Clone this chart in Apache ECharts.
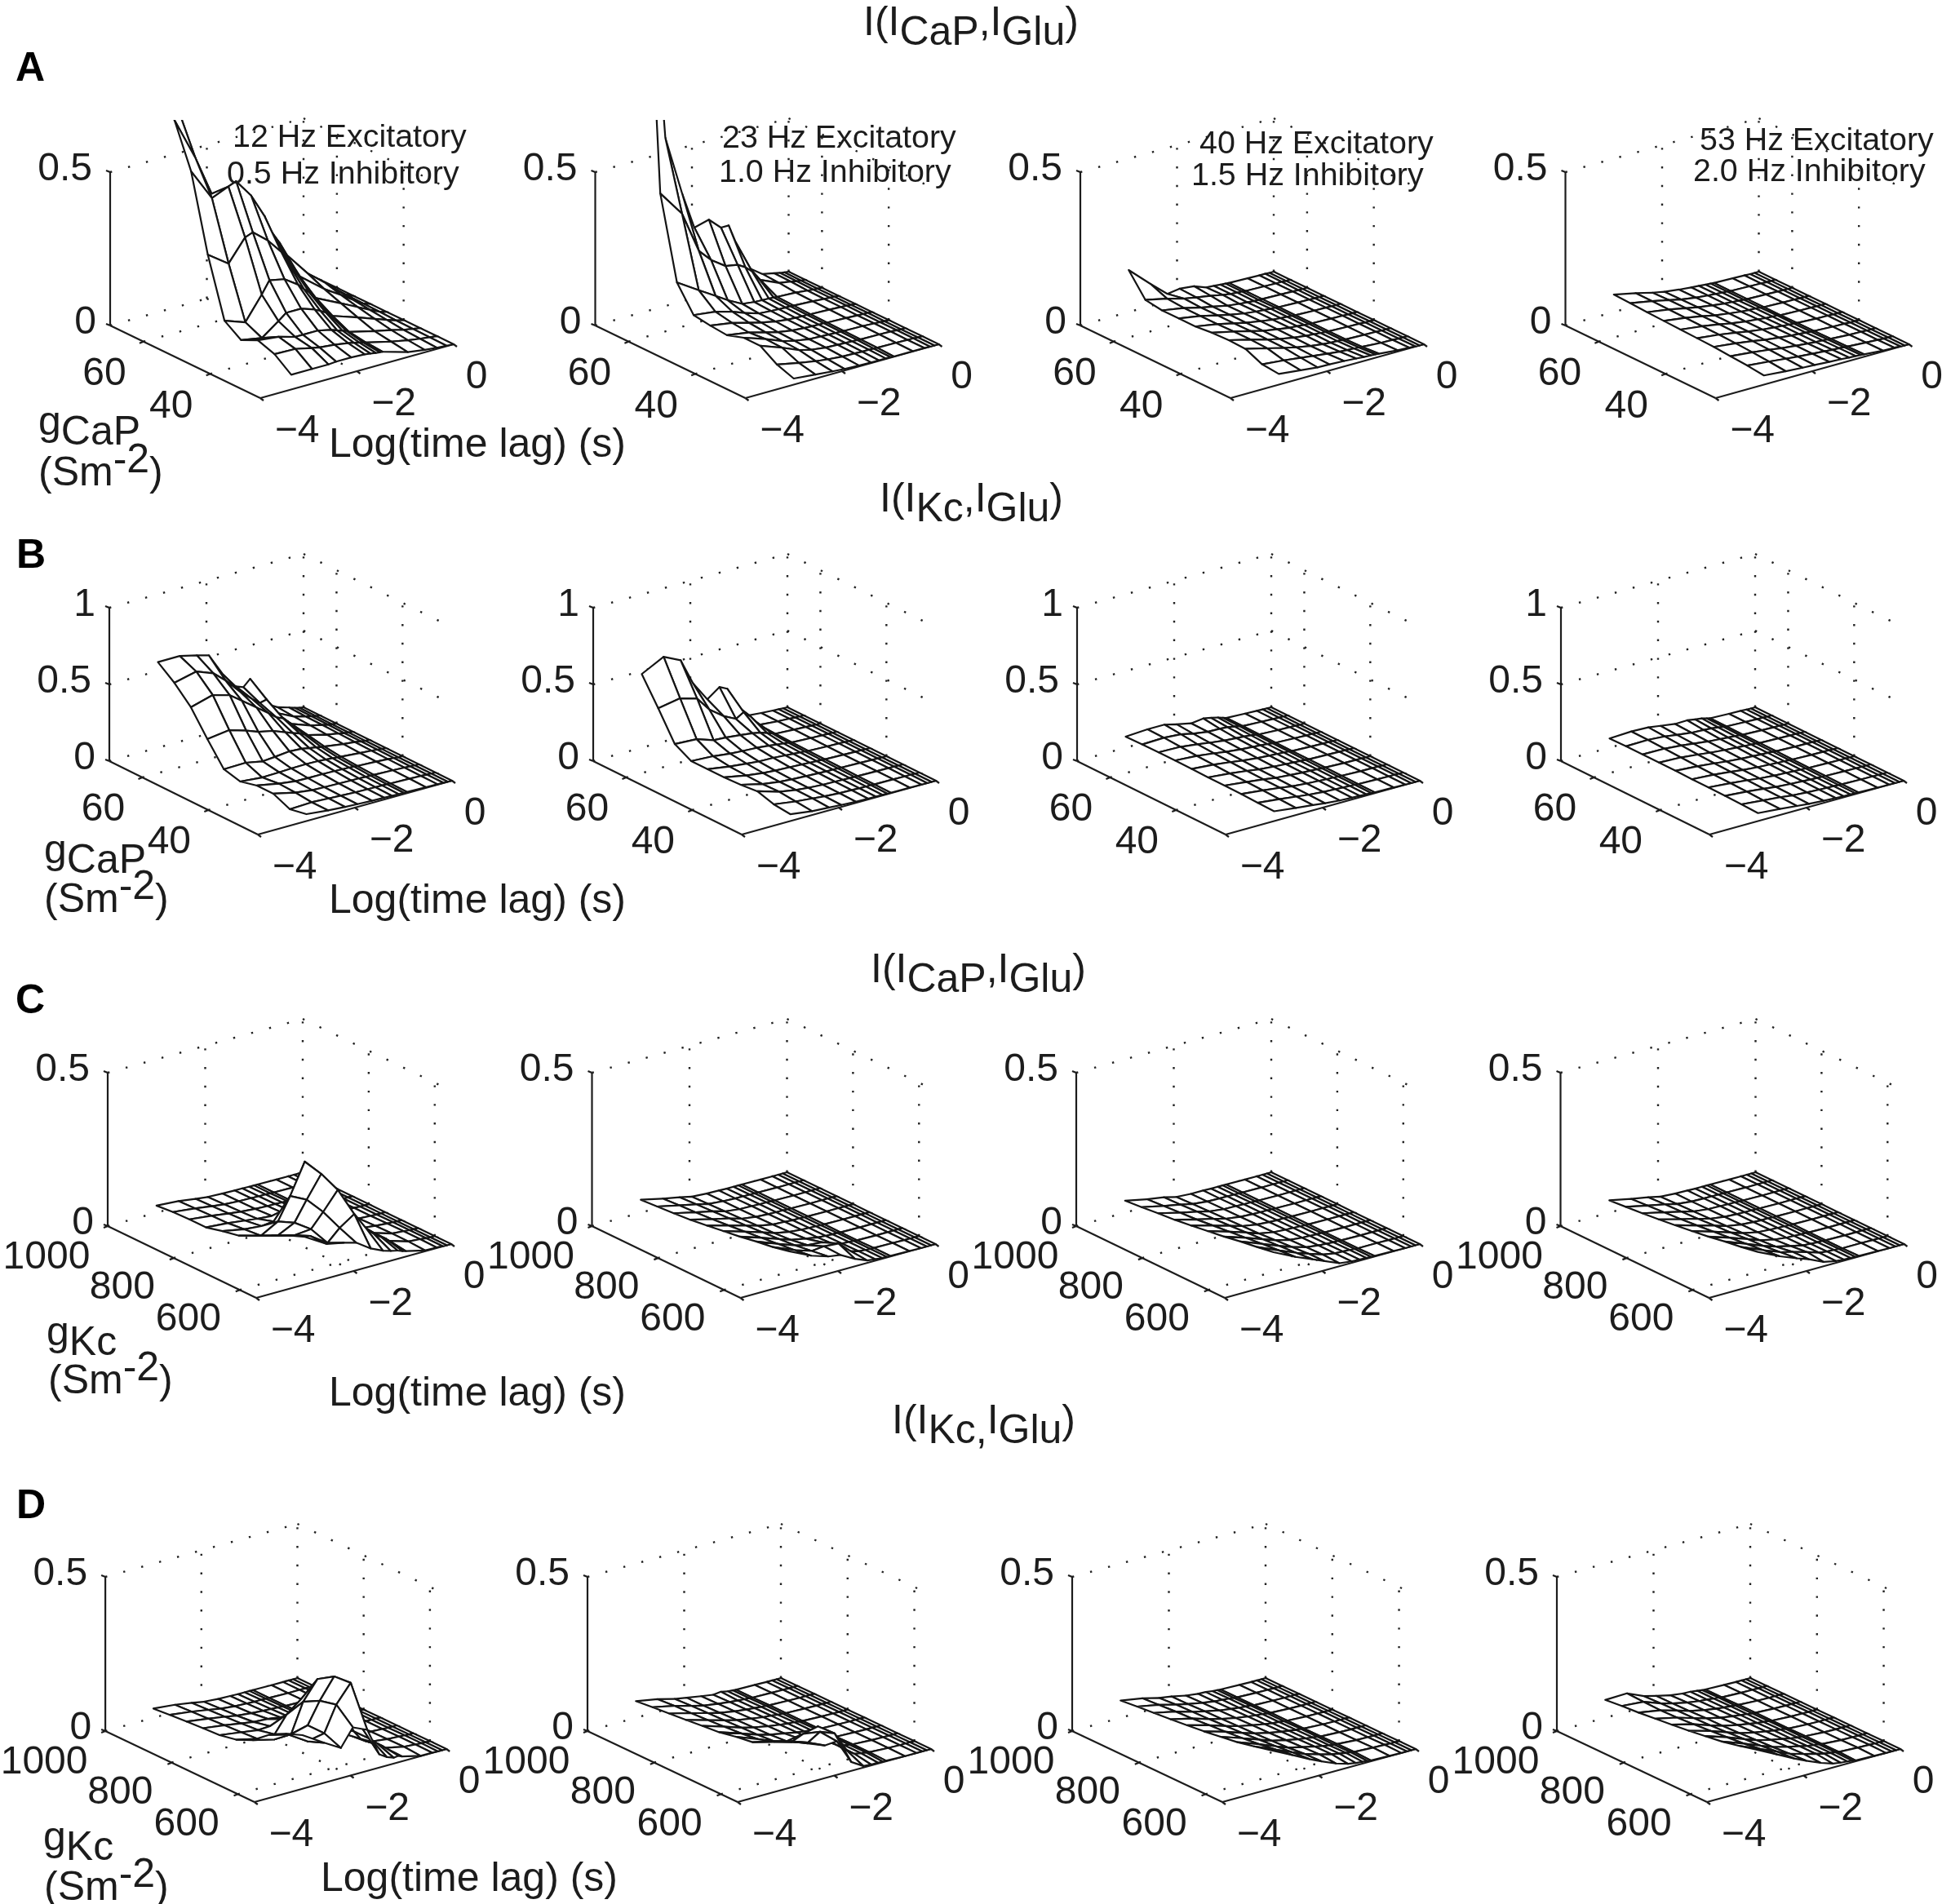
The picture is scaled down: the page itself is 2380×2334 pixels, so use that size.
<!DOCTYPE html>
<html><head><meta charset="utf-8"><style>html,body{margin:0;padding:0;background:#fff}#c{width:2380px;height:2334px}</style>
<script src="https://cdn.jsdelivr.net/npm/echarts@6/dist/echarts.min.js"></script></head>
<body><div id="c"></div>
<script>
// ---- axis values ----
const lagAxisRange=[-4,0];
const lagTicks=[-4,-2,0];
const lags=[-3,-2.55,-2.2,-1.95,-1.65,-1.4,-1.24,-1.1,-1,-0.93,-0.54,-0.3,-0.18,-0.09,0];
const lagsA1=[-3.36,-2.93,-2.59,-2.43,-2.12,-1.84,-1.72,-1.61,-1.53,-1.47,-0.95,-0.6,-0.35,-0.15,0];
const gCaP=[70,65,60,55,50,45,40,35,30,25];
const gKc=[1000,950,900,850,800,750,700,650,600,550];
const gCaPTicks=[60,40];
const gKcTicks=[1000,800,600];
const zTicksHalf=["0","0.5"];
const zTicksOne=["0","0.5","1"];
const freqLabels=[["12 Hz Excitatory","0.5 Hz Inhibitory"],["23 Hz Excitatory","1.0 Hz Inhibitory"],["40 Hz Excitatory","1.5 Hz Inhibitory"],["53 Hz Excitatory","2.0 Hz Inhibitory"]];

// ---- surfaces: information (in thousandths), rows = g high to low, columns = lags ----
const zA1=[
[1500,1200,590,520,340,230,200,180,165,150,90,55,28,8,0],
[1100,680,470,380,290,220,195,175,160,145,90,55,28,8,0],
[694,553,420,370,330,270,235,210,190,170,100,60,30,9,0],
[553,447,470,480,420,340,290,260,240,210,115,70,35,10,0],
[308,260,330,340,300,250,215,190,175,155,90,55,28,8,0],
[119,95,170,210,200,170,150,135,120,110,70,42,22,7,0],
[82,70,110,130,130,115,105,95,85,78,50,30,16,5,0],
[108,100,85,85,85,75,68,62,58,52,32,20,10,4,0],
[89,87,75,70,65,58,54,50,47,44,24,13,7,3,0],
[48,48,48,50,50,48,45,42,41,40,16,8,4,2,0]];
const zA2=[
[1500,548,350,229,242,205,205,146,90,60,16,8,4,2,0],
[413,327,190,150,117,110,95,75,55,40,13,7,3,1,0],
[149,104,70,45,20,15,14,13,12,11,8,4,2,1,0],
[69,60,45,30,15,12,11,10,10,9,6,3,2,1,0],
[61,50,35,25,15,10,9,8,8,7,5,3,2,1,0],
[56,45,30,20,12,9,8,7,7,6,4,2,1,1,0],
[74,50,28,18,10,8,7,6,6,5,4,2,1,0,0],
[74,48,25,15,9,7,6,5,5,4,3,2,1,0,0],
[39,25,15,10,6,5,4,4,3,3,2,1,1,0,0],
[20,13,8,5,3,2,2,2,2,1,1,1,0,0,0]];
const zA3=[
[137,72,24,30,25,10,8,6,5,4,2,1,1,0,0],
[66,50,35,28,20,12,8,6,5,4,2,1,1,0,0],
[58,46,32,24,14,9,7,5,4,4,2,1,0,0,0],
[58,46,33,24,15,10,8,6,5,4,2,1,0,0,0],
[58,46,33,24,16,10,8,6,5,4,2,1,0,0,0],
[64,48,34,24,16,10,8,6,5,4,2,1,0,0,0],
[66,48,33,24,15,10,8,6,5,4,2,1,0,0,0],
[64,46,32,23,14,9,7,6,5,4,2,1,0,0,0],
[40,33,26,21,15,11,9,8,7,6,2,1,0,0,0],
[35,27,21,20,18,15,13,12,11,10,4,2,1,0,0]];
const zA4=[
[57,42,28,20,14,10,8,6,5,4,2,1,0,0,0],
[55,42,30,21,14,10,8,6,5,4,2,1,0,0,0],
[52,41,30,22,15,10,8,6,5,4,2,1,0,0,0],
[50,40,30,22,15,10,8,7,5,4,2,1,0,0,0],
[48,39,30,22,15,11,8,7,6,4,2,1,0,0,0],
[46,38,29,22,15,11,9,7,6,5,2,1,0,0,0],
[44,36,28,21,15,11,9,7,6,5,2,1,0,0,0],
[40,33,26,20,15,11,9,8,7,6,2,1,0,0,0],
[36,29,23,19,15,12,10,9,8,7,3,1,0,0,0],
[30,24,20,18,15,13,11,10,9,8,3,2,1,0,0]];
const zB1=[
[558,558,532,510,356,260,240,282,180,120,48,25,12,5,0],
[476,510,468,400,300,230,190,200,130,100,40,20,10,4,0],
[370,410,378,320,250,190,150,130,100,80,35,18,9,3,0],
[215,234,200,170,150,120,100,85,70,60,28,15,7,3,0],
[72,75,53,60,70,65,55,48,42,38,20,12,6,2,0],
[45,32,35,38,40,38,34,30,27,25,15,9,5,2,0],
[72,45,30,28,28,26,24,22,20,18,12,7,4,1,0],
[72,40,25,22,20,18,17,15,14,13,9,5,3,1,0],
[24,30,24,20,16,14,13,12,11,10,7,4,2,1,0],
[45,30,22,18,14,12,10,9,9,8,5,3,2,1,0]];
const zB2=[
[480,553,500,330,197,255,230,120,60,21,10,5,3,1,0],
[310,335,303,210,140,100,130,90,50,20,9,5,2,1,0],
[130,122,85,80,70,60,50,35,25,15,8,4,2,1,0],
[72,64,50,45,40,32,25,20,16,12,6,3,2,1,0],
[72,50,38,30,28,22,18,15,12,10,5,3,1,0,0],
[72,45,30,24,20,16,13,11,10,8,4,2,1,0,0],
[77,42,26,20,15,12,10,9,8,7,4,2,1,0,0],
[88,45,26,18,12,10,8,7,6,5,3,2,1,0,0],
[56,35,24,16,10,8,6,5,5,4,3,1,1,0,0],
[45,25,18,13,8,6,5,4,3,3,2,1,0,0,0]];
const zB3=[
[72,80,80,60,40,50,40,30,20,12,6,3,2,1,0],
[74,78,70,52,38,36,32,24,18,12,6,3,1,1,0],
[76,72,58,46,34,28,24,20,15,11,5,3,1,0,0],
[76,66,52,40,30,24,20,16,13,10,5,2,1,0,0],
[74,62,48,36,26,20,17,14,12,9,4,2,1,0,0],
[72,58,44,32,24,18,15,12,10,8,4,2,1,0,0],
[72,56,42,30,22,16,14,11,9,8,3,2,1,0,0],
[70,54,40,28,20,15,12,10,8,7,3,2,1,0,0],
[66,50,36,26,18,14,11,9,8,6,3,1,1,0,0],
[64,46,34,24,16,12,10,8,7,6,3,1,0,0,0]];
const zB4=[
[60,66,62,50,36,38,30,24,16,10,5,3,1,0,0],
[62,64,56,44,32,28,24,18,14,10,5,2,1,0,0],
[62,60,50,40,28,22,18,15,12,9,4,2,1,0,0],
[62,56,44,34,25,20,16,13,11,8,4,2,1,0,0],
[62,52,40,30,22,17,14,12,10,8,3,2,1,0,0],
[60,50,38,28,20,15,12,10,9,7,3,2,1,0,0],
[60,48,36,26,18,14,11,9,8,6,3,1,1,0,0],
[58,46,34,24,17,13,10,8,7,6,3,1,0,0,0],
[56,42,32,22,15,11,9,8,6,5,2,1,0,0,0],
[52,40,28,20,14,10,8,7,6,5,2,1,0,0,0]];
const zC1=[
[23,18,10,5,3,2,2,1,1,1,0,0,0,0,0],
[28,20,12,7,4,3,2,2,1,1,0,0,0,0,0],
[30,22,14,9,5,3,3,2,2,1,1,0,0,0,0],
[30,24,17,12,8,5,4,3,2,2,1,0,0,0,0],
[44,30,25,29,60,20,10,6,5,4,1,1,0,0,0],
[55,35,66,138,237,30,25,15,10,8,3,1,0,0,0],
[81,61,88,152,223,100,60,35,20,12,5,2,1,0,0],
[108,88,93,138,197,106,70,50,35,25,6,3,1,0,0],
[134,112,74,112,144,85,60,45,35,25,6,3,1,0,0],
[155,112,101,90,58,40,32,27,21,18,3,2,1,0,0]];
const zC2=[
[42,26,15,6,3,2,1,1,1,1,0,0,0,0,0],
[46,30,18,8,4,2,2,1,1,1,0,0,0,0,0],
[50,33,21,10,4,3,2,2,1,1,0,0,0,0,0],
[55,37,24,12,5,3,2,2,1,1,0,0,0,0,0],
[62,42,27,15,6,4,2,2,1,1,0,0,0,0,0],
[70,48,31,17,8,4,3,2,1,1,0,0,0,0,0],
[78,54,35,21,12,5,3,2,2,1,0,0,0,0,0],
[88,60,40,30,26,8,4,3,2,1,0,0,0,0,0],
[96,66,48,52,48,12,5,3,2,2,1,0,0,0,0],
[108,74,56,50,24,8,5,3,2,2,1,0,0,0,0]];
const zC3=[
[39,24,15,5,2,2,1,1,1,1,0,0,0,0,0],
[44,28,17,8,3,2,2,1,1,1,0,0,0,0,0],
[50,32,20,10,4,3,2,2,1,1,0,0,0,0,0],
[55,36,23,12,5,3,2,2,1,1,0,0,0,0,0],
[62,42,26,14,6,3,2,2,1,1,0,0,0,0,0],
[70,48,30,16,7,4,3,2,1,1,0,0,0,0,0],
[78,54,34,20,8,4,3,2,2,1,0,0,0,0,0],
[88,60,38,24,10,5,3,2,2,1,0,0,0,0,0],
[96,65,42,28,12,5,4,3,2,1,1,0,0,0,0],
[105,70,47,30,10,5,4,3,2,2,1,0,0,0,0]];
const zC4=[
[40,25,15,6,3,2,1,1,1,1,0,0,0,0,0],
[45,29,18,8,3,2,2,1,1,1,0,0,0,0,0],
[50,33,20,10,4,3,2,2,1,1,0,0,0,0,0],
[56,37,23,12,5,3,2,2,1,1,0,0,0,0,0],
[63,42,27,14,6,3,2,2,1,1,0,0,0,0,0],
[70,48,30,17,7,4,3,2,1,1,0,0,0,0,0],
[78,54,35,20,9,4,3,2,2,1,0,0,0,0,0],
[88,60,38,25,14,5,3,2,2,1,0,0,0,0,0],
[96,66,44,34,20,7,4,3,2,1,1,0,0,0,0],
[106,72,50,36,14,6,4,3,2,2,1,0,0,0,0]];
const zD1=[
[30,23,14,7,3,2,1,1,1,1,0,0,0,0,0],
[35,26,17,10,5,3,2,2,1,1,0,0,0,0,0],
[39,29,20,13,8,5,4,3,2,1,0,0,0,0,0],
[43,33,24,18,15,10,6,4,3,2,1,0,0,0,0],
[46,36,28,30,40,25,12,7,5,3,1,1,0,0,0],
[57,40,40,93,130,60,22,12,8,5,2,1,0,0,0],
[81,64,66,160,221,90,40,20,12,8,3,1,0,0,0],
[124,106,120,189,255,110,60,30,18,12,4,2,1,0,0],
[153,109,120,202,260,100,60,40,28,18,5,2,1,0,0],
[174,130,98,154,133,43,27,19,21,16,1,1,0,0,0]];
const zD2=[
[54,41,27,20,12,6,9,4,3,2,1,0,0,0,0],
[60,45,30,20,13,8,6,4,3,2,1,0,0,0,0],
[65,47,32,22,14,9,7,5,4,3,1,0,0,0,0],
[70,50,34,24,16,10,8,5,4,3,1,0,0,0,0],
[76,54,36,26,17,11,8,6,4,3,1,0,0,0,0],
[81,58,38,28,19,12,8,6,5,3,1,0,0,0,0],
[92,65,42,32,26,13,9,7,5,3,1,0,0,0,0],
[100,82,66,82,93,35,14,8,6,4,1,0,0,0,0],
[129,109,90,114,96,30,12,8,6,4,1,0,0,0,0],
[155,128,106,109,29,5,3,3,2,2,0,0,0,0,0]];
const zD3=[
[56,44,30,24,14,9,8,5,4,3,1,0,0,0,0],
[62,48,34,25,16,10,8,6,4,3,1,0,0,0,0],
[67,52,36,27,17,11,8,6,5,3,1,0,0,0,0],
[72,55,38,28,18,12,9,7,5,4,1,0,0,0,0],
[78,59,41,30,20,13,9,7,5,4,1,0,0,0,0],
[84,63,44,32,21,14,10,7,6,4,1,0,0,0,0],
[92,68,48,34,23,15,11,8,6,4,1,0,0,0,0],
[100,74,52,37,26,17,12,8,6,5,1,0,0,0,0],
[112,82,58,42,28,18,13,9,7,5,2,1,0,0,0],
[125,90,62,44,24,12,8,6,4,3,1,0,0,0,0]];
const zD4=[
[58,60,36,26,15,10,9,6,4,3,1,0,0,0,0],
[64,58,38,27,17,11,9,6,5,3,1,0,0,0,0],
[68,56,40,28,18,12,9,7,5,4,1,0,0,0,0],
[74,58,41,30,19,13,10,7,5,4,1,0,0,0,0],
[80,62,43,31,21,14,10,7,6,4,1,0,0,0,0],
[86,66,46,33,22,15,11,8,6,4,1,0,0,0,0],
[94,71,50,36,24,16,11,8,6,5,1,0,0,0,0],
[102,76,54,39,27,18,12,9,7,5,1,0,0,0,0],
[114,84,60,43,29,19,13,9,7,5,2,1,0,0,0],
[128,92,64,46,26,13,9,7,5,3,1,0,0,0,0]];

// ---- page layout (pixels) ----
const INK='#1c1c1c';
const rows=[
 {key:'A',x0:135,step:594.5,y0:399,u:[237,-66],v:[184,89],h:188,zs:[zA1,zA2,zA3,zA4],g:gCaP,gt:gCaPTicks,zmax:0.5,zl:zTicksHalf,clip:true},
 {key:'B',x0:134,step:593,y0:933,u:[238,-66],v:[182,90],h:188,zs:[zB1,zB2,zB3,zB4],g:gCaP,gt:gCaPTicks,zmax:1,zl:zTicksOne},
 {key:'C',x0:132,step:593.5,y0:1503,u:[239,-66],v:[182,88],h:188,zs:[zC1,zC2,zC3,zC4],g:gKc,gt:gKcTicks,zmax:0.5,zl:zTicksHalf},
 {key:'D',x0:126,step:594,y0:2122,u:[237,-65],v:[184,87],h:189,zs:[zD1,zD2,zD3,zD4],g:gKc,gt:gKcTicks,zmax:0.5,zl:zTicksHalf}
];
const GW=580,GL=130,GT=252,GH=370;

const grids=[],xAxes=[],yAxes=[],series=[];
function projector(r){
  const gHi=r.g[0],gLo=r.g[r.g.length-1];
  return (lag,g,z)=>{
    const l=(lag-lagAxisRange[0])/(lagAxisRange[1]-lagAxisRange[0]);
    const f=(gHi-g)/(gHi-gLo);
    const w=z/r.zmax;
    return [GL+r.u[0]*l+r.v[0]*f, GT+r.u[1]*l+r.v[1]*f-r.h*w];
  };
}
function txt(pos,s,align){
  return {type:'text',x:pos[0],y:pos[1],silent:true,style:{text:s,fontFamily:'Liberation Sans',fontSize:48,fill:INK,align:align||'center',verticalAlign:'middle'}};
}
rows.forEach((r)=>{
  r.zs.forEach((Z,ci)=>{
    const idx=grids.length, ox=r.x0+r.step*ci;
    grids.push({left:ox-GL,top:r.y0-GT,width:GW,height:GH,show:false});
    xAxes.push({type:'value',gridIndex:idx,min:0,max:GW,show:false});
    yAxes.push({type:'value',gridIndex:idx,min:0,max:GH,inverse:true,show:false});
    const P=projector(r);
    const L=(r.key==='A'&&ci===0)?lagsA1:lags;
    const gHi=r.g[0],gLo=r.g[r.g.length-1],top=r.zmax;
    const zLv=r.zl.map(Number);
    series.push({type:'custom',xAxisIndex:idx,yAxisIndex:idx,silent:true,animation:false,clip:false,z:1,data:[[0]],
      renderItem(params,api){
        const c=a=>api.coord(a);
        const ch=[];
        const dot=(a,b)=>{const p=c(a),q=c(b);ch.push({type:'line',shape:{x1:p[0],y1:p[1],x2:q[0],y2:q[1]},silent:true,style:{stroke:'#222',lineWidth:2.4,lineDash:[2.4,20.4],fill:null}});};
        const sol=(a,b,w)=>{const p=c(a),q=c(b);ch.push({type:'line',shape:{x1:p[0],y1:p[1],x2:q[0],y2:q[1]},silent:true,style:{stroke:INK,lineWidth:w||2.2,fill:null}});};
        zLv.forEach(z=>{
          dot(P(-4,gHi,z),P(0,gHi,z));
          dot(P(0,gHi,z),P(0,gLo,z));
        });
        dot(P(-2,gHi,0),P(-2,gHi,top));
        dot(P(0,gHi,0),P(0,gHi,top));
        r.gt.forEach(t=>{
          if(t!==gHi) dot(P(0,t,0),P(0,t,top));
          if(t!==gHi) dot(P(-4,t,0),P(0,t,0));
        });
        dot(P(-2,gHi,0),P(-2,gLo,0));
        sol(P(-4,gHi,0),P(-4,gHi,top));
        sol(P(-4,gHi,0),P(-4,gLo,0));
        sol(P(-4,gLo,0),P(0,gLo,0));
        const tick=(p,dx,dy)=>{const a=c(p);ch.push({type:'line',shape:{x1:a[0],y1:a[1],x2:a[0]+dx,y2:a[1]+dy},silent:true,style:{stroke:INK,lineWidth:2.2}});};
        zLv.forEach(z=>tick(P(-4,gHi,z),-5,-2));
        lagTicks.forEach(t=>tick(P(t,gLo,0),4,3));
        r.gt.forEach(t=>tick(P(-4,t,0),-5,2));
        const isK=r.key==='C'||r.key==='D';
        r.zl.forEach((s,i)=>{const a=c(P(-4,gHi,zLv[i]));ch.push(txt([a[0]-(s==='0.5'?22:17),a[1]-3],s,'right'));});
        r.gt.forEach(t=>{const a=c(P(-4,t,0));const o=isK?(t===1000?[-75,39]:[-63,37]):[-48,40];ch.push(txt([a[0]+o[0],a[1]+o[1]],String(t)));});
        lagTicks.forEach(t=>{const a=c(P(t,gLo,0));const o=t===0?[28,41]:[45,41];ch.push(txt([a[0]+o[0],a[1]+o[1]],t===0?'0':'\u2212'+Math.abs(t)));});
        return {type:'group',children:ch};
      }});
    const cells=[];
    for(let i=0;i<r.g.length-1;i++)for(let j=L.length-2;j>=0;j--)cells.push([i,j]);
    series.push({type:'custom',xAxisIndex:idx,yAxisIndex:idx,silent:true,animation:false,clip:!!r.clip,z:2,data:cells,
      renderItem(params,api){
        const i=api.value(0),j=api.value(1);
        const pts=[[i,j],[i,j+1],[i+1,j+1],[i+1,j]].map(([a,b])=>api.coord(P(L[b],r.g[a],Z[a][b]/1000)));
        return {type:'polygon',silent:true,shape:{points:pts},style:{fill:'#fff',stroke:'#141414',lineWidth:2.2,lineJoin:'round'}};
      }});
  });
});

// ---- fixed labels ----
const richBase={m:{fontFamily:'Liberation Sans',fontSize:50,fill:INK,color:INK,lineHeight:54,verticalAlign:'top'},
 s:{fontFamily:'Liberation Sans',fontSize:50,fill:INK,color:INK,lineHeight:54,verticalAlign:'top',padding:[12,0,0,0]},
 u:{fontFamily:'Liberation Sans',fontSize:50,fill:INK,color:INK,lineHeight:54,verticalAlign:'top',padding:[16,0,0,0]}};
function rt(x,y,text){return {type:'text',x,y,silent:true,z:20,style:{text,rich:richBase,fill:INK,align:'left',verticalAlign:'top',fontFamily:'Liberation Sans',fontSize:50}};}
function plain(x,y,text,size,weight){return {type:'text',x,y,silent:true,z:20,style:{text,fill:weight?'#000':INK,fontFamily:'Liberation Sans',fontSize:size,fontWeight:weight||'normal',align:'left',verticalAlign:'middle'}};}
const g=[];
g.push(rt(1058,4,'{m|I(I}{s|CaP}{m|,I}{s|Glu}{m|)}'));
g.push(rt(1078,588,'{m|I(I}{s|Kc}{m|,I}{s|Glu}{m|)}'));
g.push(rt(1067,1165,'{m|I(I}{s|CaP}{m|,I}{s|Glu}{m|)}'));
g.push(rt(1093,1718,'{m|I(I}{s|Kc,}{m|I}{s|Glu}{m|)}'));
g.push(plain(19,85,'A',50,'bold'));g.push(plain(20,682,'B',50,'bold'));g.push(plain(19,1228,'C',50,'bold'));g.push(plain(20,1847,'D',50,'bold'));
const freqX=[[285,278],[885,881],[1470,1460],[2083,2075]],freqY=[[169,214],[170,212],[177,216],[173,211]];
freqLabels.forEach((p,i)=>p.forEach((s,k)=>g.push(plain(freqX[i][k],freqY[i][k],s,39.4))));
[[403,546],[403,1105],[403,1709],[393,2304]].forEach(p=>g.push(plain(p[0],p[1],'Log(time lag) (s)',50)));
g.push(rt(47,494,'{m|g}{s|CaP}'));g.push(rt(47,540,'{u|(Sm}{m|-2}{u|)}'));
g.push(rt(54,1019,'{m|g}{s|CaP}'));g.push(rt(54,1063,'{u|(Sm}{m|-2}{u|)}'));
g.push(rt(57,1610,'{m|g}{s|Kc}'));g.push(rt(59,1653,'{u|(Sm}{m|-2}{u|)}'));
g.push(rt(53,2229,'{m|g}{s|Kc}'));g.push(rt(54,2274,'{u|(Sm}{m|-2}{u|)}'));

const chart=echarts.init(document.getElementById('c'),null,{renderer:'canvas',width:2380,height:2334,devicePixelRatio:1});
chart.setOption({animation:false,backgroundColor:'#fff',grid:grids,xAxis:xAxes,yAxis:yAxes,series,graphic:{elements:g}});
</script></body></html>
